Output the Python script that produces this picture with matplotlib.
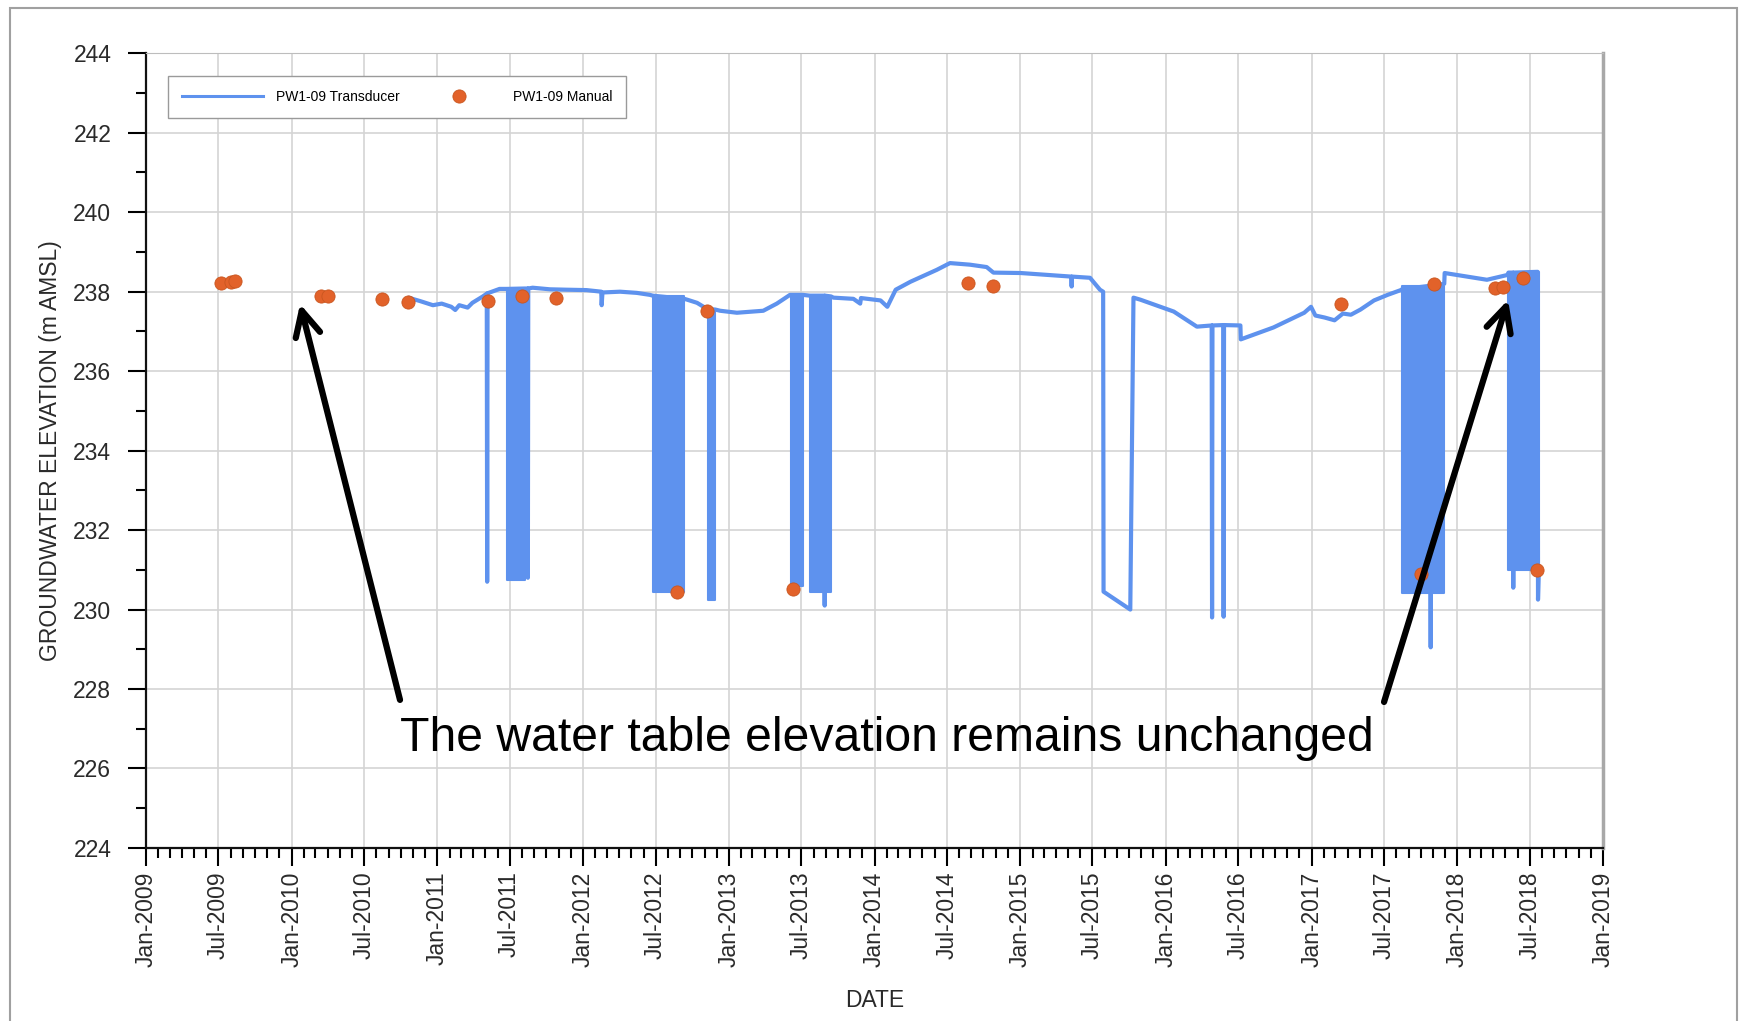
import numpy as np
import pandas as pd
import matplotlib
matplotlib.use("Agg")
import matplotlib.pyplot as plt
import matplotlib.dates as mdates
from matplotlib.ticker import MultipleLocator
from matplotlib.patches import Rectangle

plt.rcParams['font.family'] = ['Liberation Sans', 'DejaVu Sans']

# transducer record (continuous part + single spikes)
trans_dates = [
    "2010-10-24", "2010-11-20", "2010-12-21", "2011-01-12", "2011-02-05", "2011-02-15",
    "2011-02-25", "2011-03-18", "2011-03-30", "2011-04-25", "2011-05-05", "2011-05-06",
    "2011-05-07", "2011-06-06", "2011-06-24", "2011-08-08", "2011-08-15", "2011-08-16",
    "2011-08-17", "2011-08-28", "2011-10-10", "2011-11-21", "2012-01-10", "2012-02-16",
    "2012-02-17", "2012-02-19", "2012-04-03", "2012-05-15", "2012-06-17", "2012-06-24",
    "2012-09-11", "2012-09-18", "2012-10-13", "2012-11-05", "2012-11-10", "2012-11-28",
    "2012-12-10", "2013-01-21", "2013-03-28", "2013-05-01", "2013-06-03", "2013-06-05",
    "2013-07-05", "2013-07-23", "2013-08-28", "2013-08-29", "2013-08-30", "2013-09-14",
    "2013-09-20", "2013-11-09", "2013-11-26", "2013-11-28", "2014-01-16", "2014-02-02",
    "2014-02-23", "2014-04-01", "2014-06-06", "2014-07-09", "2014-08-28", "2014-10-09",
    "2014-10-26", "2015-01-02", "2015-05-09", "2015-05-10", "2015-05-11", "2015-06-25",
    "2015-07-20", "2015-07-28", "2015-07-29", "2015-10-04", "2015-10-12", "2015-10-29",
    "2016-01-21", "2016-03-19", "2016-04-25", "2016-04-26", "2016-04-27", "2016-05-24",
    "2016-05-25", "2016-05-26", "2016-07-06", "2016-07-07", "2016-09-27", "2016-12-13",
    "2016-12-30", "2017-01-10", "2017-02-02", "2017-02-27", "2017-03-20", "2017-04-09",
    "2017-05-03", "2017-06-06", "2017-07-10", "2017-08-12", "2017-08-15", "2017-10-25",
    "2017-10-26", "2017-10-27", "2017-11-29", "2017-11-30", "2018-03-16", "2018-05-06",
    "2018-05-09", "2018-05-20", "2018-05-21", "2018-05-22", "2018-07-21", "2018-07-22",
    "2018-07-24",
]
trans_vals = [
    237.84, 237.76, 237.66, 237.70, 237.62, 237.54,
    237.66, 237.60, 237.72, 237.88, 237.95, 230.70,
    237.96, 238.07, 238.07, 238.08, 238.08, 230.80,
    238.08, 238.10, 238.06, 238.05, 238.04, 238.00,
    237.66, 237.98, 238.00, 237.97, 237.92, 237.90,
    237.82, 237.80, 237.72, 237.58, 237.56, 237.55,
    237.52, 237.47, 237.52, 237.70, 237.92, 237.92,
    237.92, 237.90, 237.90, 230.10, 237.90, 237.88,
    237.85, 237.82, 237.70, 237.84, 237.78, 237.62,
    238.05, 238.25, 238.55, 238.72, 238.68, 238.62,
    238.48, 238.47, 238.38, 238.13, 238.38, 238.35,
    238.05, 238.00, 230.45, 230.00, 237.85, 237.80,
    237.50, 237.12, 237.15, 229.80, 237.15, 237.16,
    229.82, 237.16, 237.15, 236.80, 237.10, 237.47,
    237.62, 237.40, 237.35, 237.28, 237.45, 237.42,
    237.55, 237.78, 237.92, 238.04, 238.06, 238.15,
    229.05, 238.15, 238.20, 238.47, 238.30, 238.42,
    238.48, 238.48, 230.55, 238.48, 238.50, 230.25,
    231.00,
]

# periods where the logger cycled fast between pumping and static levels
band_start = ["2011-06-24", "2012-06-24", "2012-11-10", "2013-06-05", "2013-07-23", "2017-08-15", "2018-05-09"]
band_end = ["2011-08-08", "2012-09-11", "2012-11-28", "2013-07-05", "2013-09-14", "2017-11-29", "2018-07-24"]
band_top = [238.07, 237.90, 237.56, 237.92, 237.90, 238.15, 238.50]
band_low = [230.75, 230.45, 230.25, 230.60, 230.45, 230.42, 231.00]

# manual readings
manual_dates = [
    "2009-07-08", "2009-08-01", "2009-08-13", "2010-03-15", "2010-04-01", "2010-08-16",
    "2010-10-19", "2011-05-09", "2011-08-02", "2011-10-26", "2012-08-23", "2012-11-08",
    "2013-06-11", "2014-08-24", "2014-10-24", "2017-03-16", "2017-10-01", "2017-11-03",
    "2018-04-06", "2018-04-24", "2018-06-15", "2018-07-20",
]
manual_vals = [
    238.22, 238.25, 238.28, 237.90, 237.88, 237.82,
    237.73, 237.77, 237.90, 237.84, 230.45, 237.52,
    230.51, 238.23, 238.15, 237.69, 230.90, 238.20,
    238.10, 238.13, 238.34, 231.00,
]

line_color = '#5E92EE'
dot_color = '#E2622A'

fig = plt.figure(figsize=(17.43, 10.21), dpi=100)
ax = fig.add_axes([0.0838, 0.1695, 0.8359, 0.7783])

# outer frame of the figure
fig.patches.append(Rectangle((0.0057, -0.01), 0.9909, 1.0022, transform=fig.transFigure,
                             fill=False, edgecolor='#A0A0A0', lw=1.5))

t = pd.to_datetime(trans_dates)
ax.plot(t, trans_vals, color=line_color, lw=3.0, label='PW1-09 Transducer', zorder=3)
for s, e, top, low in zip(band_start, band_end, band_top, band_low):
    ax.fill_between(pd.to_datetime([s, e]), [low, low], [top, top],
                    color=line_color, lw=1.5, zorder=3)

ax.plot(pd.to_datetime(manual_dates), manual_vals, 'o', color=dot_color, ms=9.5,
        mec='#C9561F', mew=0.6, label='PW1-09 Manual', zorder=4)

ax.set_xlim(pd.Timestamp("2009-01-01"), pd.Timestamp("2019-01-01"))
ax.set_ylim(224, 244)
ax.xaxis.set_major_locator(mdates.MonthLocator(bymonth=[1, 7]))
ax.xaxis.set_minor_locator(mdates.MonthLocator())
ax.xaxis.set_major_formatter(mdates.DateFormatter('%b-%Y'))
ax.yaxis.set_major_locator(MultipleLocator(2))
ax.yaxis.set_minor_locator(MultipleLocator(1))

ax.tick_params(which='major', direction='out', length=13, width=1.5, labelsize=16.5,
               labelcolor='#2a2a2a')
ax.tick_params(which='minor', direction='out', length=7, width=1.5)
ax.tick_params(axis='y', which='major', pad=12)
ax.tick_params(axis='x', which='major', pad=4)
plt.setp(ax.get_xticklabels(), rotation=90)

ax.grid(True, which='major', color='#d4d4d4', lw=1.2)
ax.set_axisbelow(True)
for side in ['left', 'bottom']:
    ax.spines[side].set_linewidth(1.6)
    ax.spines[side].set_color('#111111')
ax.spines['top'].set_color('#bdbdbd')
ax.spines['right'].set_color('#a8a8a8')
ax.spines['right'].set_linewidth(2.5)

ax.set_ylabel('GROUNDWATER ELEVATION (m AMSL)', fontsize=16.5, color='#2a2a2a')
ax.yaxis.set_label_coords(-0.058, 0.5)
ax.set_xlabel('DATE', fontsize=16.5, color='#2a2a2a')
ax.xaxis.set_label_coords(0.5, -0.178)

leg = ax.legend(loc='upper left', bbox_to_anchor=(0.0151, 0.9716), borderaxespad=0,
                ncol=2, fontsize=10, handlelength=5.8, handletextpad=0.95,
                columnspacing=1.4, borderpad=1.0, numpoints=1, fancybox=False,
                framealpha=1, edgecolor='#9a9a9a')
leg.get_frame().set_linewidth(1.0)
for line in leg.get_lines():
    line.set_linewidth(2.2)

# annotation
ax.text(0.5086, 0.122, 'The water table elevation remains unchanged', transform=ax.transAxes,
        ha='center', va='baseline', fontsize=34.7, color='black', zorder=6)
arrow = dict(arrowstyle='->', lw=4.5, color='black', mutation_scale=45,
             shrinkA=0, shrinkB=0)
ax.annotate('', xy=(0.1057, 0.6846), xytext=(0.1743, 0.1863), xycoords='axes fraction',
            arrowprops=arrow, zorder=6)
ax.annotate('', xy=(0.9348, 0.6897), xytext=(0.8497, 0.1837), xycoords='axes fraction',
            arrowprops=arrow, zorder=6)

fig.savefig('out.png', dpi=100, facecolor='white')
